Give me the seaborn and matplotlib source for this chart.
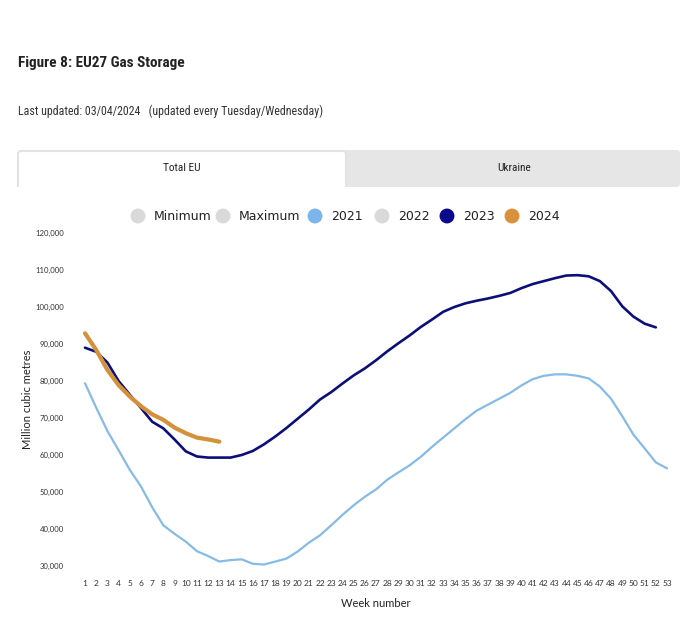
import numpy as np
import pandas as pd
import matplotlib
matplotlib.use("Agg")
import matplotlib.pyplot as plt
from matplotlib import font_manager
from matplotlib.patches import FancyBboxPatch, Rectangle
import seaborn as sns

# ---------------- data ----------------
weeks_2021 = list(range(1, 54))
storage_2021 = [79400, 72800, 66500, 61300, 56000, 51500, 45900, 41000, 38700, 36600,
                34000, 32700, 31200, 31600, 31800, 30600, 30400, 31200, 32000, 33900,
                36300, 38300, 41000, 43800, 46400, 48700, 50700, 53300, 55300, 57200,
                59500, 62200, 64700, 67200, 69700, 72000, 73600, 75200, 76800, 78800,
                80500, 81400, 81800, 81800, 81400, 80700, 78500, 75200, 70500, 65500,
                61800, 58000, 56400]

weeks_2023 = list(range(1, 53))
storage_2023 = [89000, 87900, 85000, 80000, 76300, 72700, 69000, 67200, 64200, 61000,
                59600, 59300, 59300, 59300, 60000, 61100, 62900, 65000, 67300, 69800,
                72300, 75000, 77000, 79300, 81500, 83400, 85600, 88000, 90200, 92300,
                94600, 96600, 98700, 100000, 101000, 101700, 102300, 103000, 103800, 105100,
                106200, 107000, 107800, 108500, 108600, 108300, 107000, 104300, 100200, 97400,
                95500, 94500]

weeks_2024 = list(range(1, 14))
storage_2024 = [92900, 88400, 83000, 78900, 75800, 73200, 71000, 69500, 67400, 65900,
                64700, 64200, 63600]

legend_names = ["Minimum", "Maximum", "2021", "2022", "2023", "2024"]
y_ticks = [30000, 40000, 50000, 60000, 70000, 80000, 90000, 100000, 110000, 120000]
x_ticks = list(range(1, 54))

title = "Figure 8: EU27 Gas Storage"
subtitle = "Last updated: 03/04/2024   (updated every Tuesday/Wednesday)"
tab_left = "Total EU"
tab_right = "Ukraine"
x_label = "Week number"
y_label = "Million cubic metres"

colors = {"Minimum": "#d9d9d9", "Maximum": "#d9d9d9", "2021": "#7cb5ec",
          "2022": "#d9d9d9", "2023": "#0a0a8c", "2024": "#d9923b"}
line_colors = {"2021": "#86bbe6", "2023": "#0b0f78", "2024": "#d4913b"}

df = pd.concat([
    pd.DataFrame({"week": weeks_2021, "value": storage_2021, "year": "2021"}),
    pd.DataFrame({"week": weeks_2023, "value": storage_2023, "year": "2023"}),
    pd.DataFrame({"week": weeks_2024, "value": storage_2024, "year": "2024"}),
], ignore_index=True)

# ---------------- fonts ----------------
sns.set_theme(style="white")
available = {f.name for f in font_manager.fontManager.ttflist}
def pick(*names):
    for n in names:
        if n in available:
            return n
    return "DejaVu Sans"
cond_font = pick("Liberation Sans Narrow", "Roboto Condensed", "Open Sans Condensed", "Liberation Sans")
chart_font = pick("Lato", "Open Sans", "Liberation Sans")
plt.rcParams["font.family"] = [chart_font, "DejaVu Sans"]

# ---------------- figure ----------------
W, H = 700, 624
fig = plt.figure(figsize=(W / 100, H / 100), dpi=100)
fig.patch.set_facecolor("white")

bg = fig.add_axes([0, 0, 1, 1])
bg.set_xlim(0, W)
bg.set_ylim(H, 0)
bg.axis("off")

bg.text(18, 63, title, fontsize=11, fontweight="bold", family=[cond_font, "DejaVu Sans"],
        color="#222222", va="center", ha="left")
bg.text(18, 111, subtitle, fontsize=8.6, family=[cond_font, "DejaVu Sans"],
        color="#333333", va="center", ha="left")

# tabs
bg.add_patch(FancyBboxPatch((18, 150), 662, 37, boxstyle="round,pad=0,rounding_size=4",
                            facecolor="#e6e6e6", edgecolor="none"))
bg.add_patch(FancyBboxPatch((18, 151), 328, 40, boxstyle="round,pad=0,rounding_size=3",
                            facecolor="white", edgecolor="#e3e3e3", linewidth=1.5))
bg.add_patch(Rectangle((14, 187), 340, 10, facecolor="white", edgecolor="none"))
bg.text(182, 168, tab_left, fontsize=8.2, family=[cond_font, "DejaVu Sans"], color="#222222",
        ha="center", va="center")
bg.text(514, 168, tab_right, fontsize=8.2, family=[cond_font, "DejaVu Sans"], color="#222222",
        ha="center", va="center")

# legend
leg_circle_x = [138, 223, 315, 382, 447, 512]
for name, cx in zip(legend_names, leg_circle_x):
    bg.scatter([cx], [216], s=115, color=colors[name], edgecolors="none")
    bg.text(cx + 16, 216, name, fontsize=9, family=["DejaVu Sans"], color="#222222",
            ha="left", va="center")

# chart axes
ax_left = 79.4 / W
ax_width = (672.6 - 79.4) / W
ax_bottom = 1 - 566 / H
ax_height = (566 - 233) / H
ax = fig.add_axes([ax_left, ax_bottom, ax_width, ax_height])
ax.set_facecolor("none")

widths = {"2021": 1.6, "2023": 1.9, "2024": 3.0}
for yr in ["2021", "2023", "2024"]:
    sns.lineplot(data=df[df["year"] == yr], x="week", y="value", color=line_colors[yr],
                 linewidth=widths[yr], ax=ax, legend=False, clip_on=False)

ax.set_xlim(0.5, 53.5)
ax.set_ylim(30000, 120000)
ax.set_xticks(x_ticks)
ax.set_xticklabels([str(t) for t in x_ticks])
ax.set_yticks(y_ticks)
ax.set_yticklabels([f"{t:,}" for t in y_ticks])
ax.tick_params(axis="y", length=0, pad=11, labelsize=5.6, labelcolor="#333333")
ax.tick_params(axis="x", length=0, pad=10, labelsize=6, labelcolor="#333333")
for s in ax.spines.values():
    s.set_visible(False)
ax.grid(False)
ax.set_xlabel(x_label, fontsize=8, color="#222222", labelpad=8)
ax.set_ylabel(y_label, fontsize=8, color="#222222", labelpad=2)

fig.savefig("out.png", dpi=100, facecolor="white")
